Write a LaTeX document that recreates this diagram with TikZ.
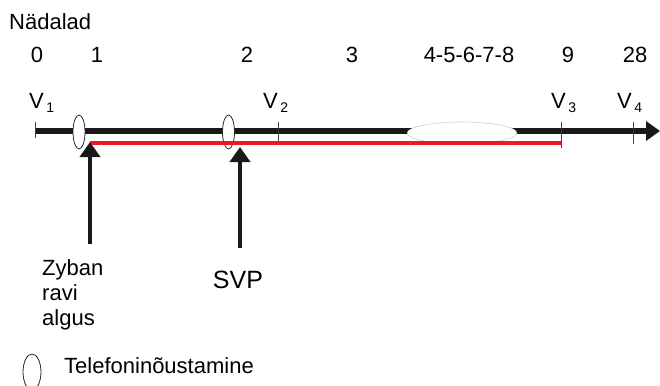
\documentclass[tikz,border=0pt]{standalone}
\usepackage{fontspec}
\setmainfont{Liberation Sans}
\usetikzlibrary{arrows.meta,shapes.geometric}
\definecolor{tlred}{RGB}{232,28,36}
\begin{document}
\begin{tikzpicture}[x=1pt,y=-1pt,
  lbl/.style={font=\fontsize{22}{25}\selectfont, inner sep=0pt, anchor=base},
  lblw/.style={lbl, anchor=base west},
  vlbl/.style={font=\fontsize{22}{25}\selectfont, inner sep=0pt, anchor=base west},
  ticky/.style={line width=0.8pt, draw=black!75},
  phone/.style={ellipse, draw=black!85, fill=white, line width=0.8pt, minimum width=12pt, minimum height=34pt, inner sep=0pt},
  bigell/.style={ellipse, draw=black!35, dash pattern=on 1pt off 1pt, fill=white, line width=0.6pt, minimum width=110pt, minimum height=22pt, inner sep=0pt},
  upar/.style={line width=4.5pt, draw=black!90, -{Triangle[length=15pt,width=20pt]}}
]
\useasboundingbox (0,0) rectangle (660,385);
% labels
\node[lblw] (nad) at (9,30) {Nädalad};
\node[lbl] (w0) at (37,63) {0};
\node[lbl] (w1) at (97,63) {1};
\node[lbl] (w2) at (247,63) {2};
\node[lbl] (w3) at (352,63) {3};
\node[lbl] (w4) at (469,63) {4-5-6-7-8};
\node[lbl] (w9) at (568,63) {9};
\node[lbl] (w28) at (635,63) {28};
\newcommand{\vsub}[1]{V\hspace{2.5pt}\raisebox{-5pt}{\fontsize{14}{14}\selectfont #1}}
\node[vlbl] (v1) at (29,108) {\vsub{1}};
\node[vlbl] (v2) at (263,108) {\vsub{2}};
\node[vlbl] (v3) at (551,108) {\vsub{3}};
\node[vlbl] (v4) at (617,108) {\vsub{4}};
% main time line
\coordinate (m0) at (35,131);
\coordinate (mend) at (660,131);
\draw[line width=6pt, draw=black!90, -{Triangle[length=14pt,width=19pt]}] (m0) -- (mend);
% ticks
\coordinate (t1a) at (35,122); \coordinate (t1b) at (35,138);
\coordinate (t2a) at (278,122); \coordinate (t2b) at (278,142);
\coordinate (t3a) at (561,122); \coordinate (t3b) at (561,148);
\coordinate (t4a) at (633,122); \coordinate (t4b) at (633,144);
\draw[ticky] (t1a) -- (t1b);
\draw[ticky] (t2a) -- (t2b);
\draw[ticky] (t3a) -- (t3b);
\draw[ticky] (t4a) -- (t4b);
% phone consultations
\node[phone] (p1) at (79,132) {};
\node[phone] (p2) at (228.5,132) {};
\node[bigell] (big) at (462,133) {};
% red treatment line
\coordinate (r0) at (90,143);
\coordinate (r1) at (561,143);
\draw[line width=4pt, draw=tlred] (r0) -- (r1);
% up arrows
\coordinate (a1s) at (90,244); \coordinate (a1t) at (90,142);
\coordinate (a2s) at (240,248); \coordinate (a2t) at (240,147);
\draw[upar] (a1s) -- (a1t);
\draw[upar] (a2s) -- (a2t);
% bottom labels
\node[lblw] (z1) at (42,275) {Zyban};
\node[lblw] (z2) at (42,300) {ravi};
\node[lblw] (z3) at (42,325) {algus};
\node[lbl, font=\fontsize{25}{28}\selectfont] (svp) at (238,288) {SVP};
% legend
\node[ellipse, draw=black!85, line width=0.8pt, minimum width=18pt, minimum height=36pt, inner sep=0pt] (leg) at (32,372) {};
\node[lblw] (tel) at (64,373) {Telefoninõustamine};
\end{tikzpicture}
\end{document}
